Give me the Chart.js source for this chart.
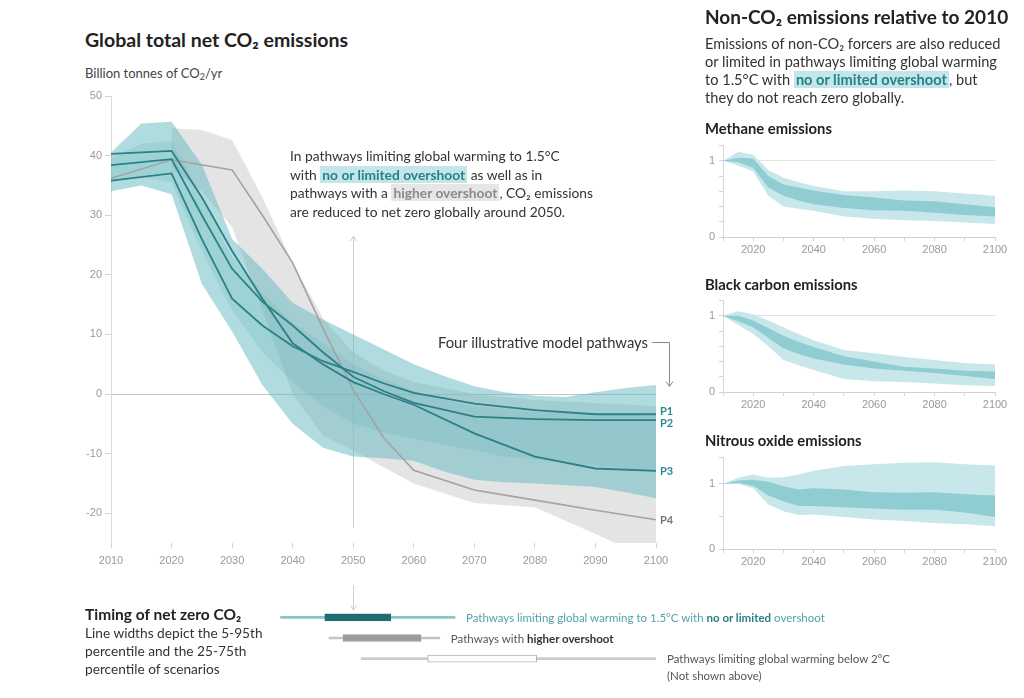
<!DOCTYPE html>
<html lang="en">
<head>
<meta charset="UTF-8">
<title>Global total net CO2 emissions</title>
<script src="https://cdn.jsdelivr.net/npm/chart.js"></script>
<style>
    body {
        margin: 0;
        background: #fff;
        font-family: Lato, "Noto Sans", sans-serif;
        color: #333;
    }
    #page { position: relative; width: 1024px; height: 698px; overflow: hidden; }
    .abs { position: absolute; white-space: nowrap; }
    canvas { position: absolute; }

    .t-main { left: 85px; top: 28px; font-size: 19.5px; line-height: 24px; font-weight: bold; color: #222; }
    .t-unit { left: 85px; top: 64px; font-size: 13px; line-height: 18px; color: #444; }
    .t-unit sub { font-size: 9px; vertical-align: -2px; line-height: 0; }
    .note { left: 290px; top: 147px; font-size: 13.8px; line-height: 18.7px; color: #333; }
    .hl-teal { background: #c4e6e9; color: #23828a; font-weight: bold; padding: 0 2px; }
    .hl-gray { background: #e6e6e6; color: #8a8a8a; font-weight: bold; padding: 0 2px; }
    .four { right: 376px; top: 333px; font-size: 14.8px; line-height: 18px; color: #333; }
    .p-label { font-size: 11px; line-height: 12px; font-weight: bold; color: #2b8a91; }
    .p-label.gray { color: #777; }

    .t-right { left: 705px; top: 5px; font-size: 19px; line-height: 24px; font-weight: bold; color: #222; }
    .para { left: 705px; top: 35px; font-size: 14.6px; line-height: 18px; color: #333; }
    .t-small { left: 705px; font-size: 14.8px; line-height: 18px; font-weight: bold; color: #222; }

    .timing-text { left: 85px; top: 605px; font-size: 13.7px; line-height: 18px; color: #333; }
    .timing-text b { color: #222; font-size: 15.5px; }
    .tl { font-size: 11.5px; line-height: 17px; color: #555; }
    .tl.teal { color: #4fa5ab; }
    .tl.teal b { color: #2a7f86; }
    .tl b { color: #333; }
</style>
</head>
<body>
<div id="page">
    <div class="abs t-main">Global total net CO₂ emissions</div>
    <div class="abs t-unit">Billion tonnes of CO<sub>2</sub>/yr</div>

    <canvas id="main" width="640" height="500" style="left:60px; top:80px;"></canvas>
    <canvas id="timing" width="640" height="95" style="left:60px; top:585px;"></canvas>

    <div class="abs note">In pathways limiting global warming to 1.5°C<br>with <span class="hl-teal">no or limited overshoot</span> as well as in<br>pathways with a <span class="hl-gray">higher overshoot</span>, CO₂ emissions<br>are reduced to net zero globally around 2050.</div>
    <div class="abs four">Four illustrative model pathways</div>
    <svg class="abs" style="left:0; top:0;" width="1024" height="698">
        <path d="M652 342.5 H669.5 V386" stroke="#888" stroke-width="1" fill="none"/>
        <path d="M666 381.5 L669.5 386.5 L673 381.5" stroke="#888" stroke-width="1" fill="none"/>
    </svg>

    <div class="abs t-right">Non-CO₂ emissions relative to 2010</div>
    <div class="abs para">Emissions of non-CO₂ forcers are also reduced<br>or limited in pathways limiting global warming<br>to 1.5°C with <span class="hl-teal">no or limited overshoot</span>, but<br>they do not reach zero globally.</div>

    <div class="abs t-small" style="top:119px;">Methane emissions</div>
    <canvas id="methane" width="330" height="124" style="left:690px; top:135px;"></canvas>
    <div class="abs t-small" style="top:275px;">Black carbon emissions</div>
    <canvas id="blackcarbon" width="330" height="124" style="left:690px; top:290px;"></canvas>
    <div class="abs t-small" style="top:431px;">Nitrous oxide emissions</div>
    <canvas id="nitrous" width="330" height="124" style="left:690px; top:447px;"></canvas>

    <div class="abs timing-text"><b>Timing of net zero CO₂</b><br>Line widths depict the 5-95th<br>percentile and the 25-75th<br>percentile of scenarios</div>
</div>

<script>
    // ---- main chart: net CO2 (GtCO2/yr) ----
    const BAND_YEARS = [2010, 2015, 2020, 2025, 2030, 2035, 2040, 2045, 2050, 2055, 2060, 2065, 2070, 2075, 2080, 2085, 2090, 2095, 2100];
    const TEAL_HI = [40.5, 45.4, 45.7, 38.5, 26, 21, 15.3, 12.5, 10, 7.5, 5, 3, 1.3, 0.3, -0.3, -0.5, 0.3, 1, 1.5];
    const TEAL_LO = [34, 35, 33.5, 18.5, 10.5, 1.5, -5, -9, -10.5, -10.8, -11.2, -13, -14.4, -14.8, -15, -15.3, -15.6, -16.5, -17.5];
    const TEAL_CORE_HI = [39.5, 42, 42.5, 33, 23, 17, 12, 8.5, 5, 2.5, 0.5, -1, -2, -2.5, -3, -3.2, -3.4, -3.5, -3.6];
    const TEAL_CORE_LO = [35.5, 36.5, 35.5, 24, 14, 7, 2, -2, -5, -6.5, -7.5, -8.5, -9.5, -10.5, -11, -11.5, -12, -12.5, -13];

    const GRAY_YEARS = [2020, 2025, 2030, 2035, 2040, 2045, 2050, 2055, 2060, 2070, 2080, 2090, 2100];
    const GRAY_HI = [44.6, 44.3, 42.6, 33, 22, 12.7, 7, 4, 2, 0, -1, -1.5, -2];
    const GRAY_LO = [38, 34, 28, 14, 0, -7, -9.5, -12.3, -15, -18.3, -19, -23.5, -28];

    const P_YEARS = [2010, 2020, 2025, 2030, 2035, 2040, 2045, 2050, 2055, 2060, 2070, 2080, 2090, 2100];
    const P1 = [35.8, 37.0, 26, 16, 11.5, 8, 5.5, 3.7, 1.8, 0.2, -1.6, -2.7, -3.4, -3.4];
    const P2 = [38.4, 39.4, 30, 21, 15.5, 11.5, 7, 2.9, 0.5, -1.5, -3.8, -4.2, -4.4, -4.4];
    const P3 = [40.3, 40.8, 33, 24, 16, 8.5, 5, 2, 0, -1.8, -6.6, -10.5, -12.5, -12.9];
    const P4_YEARS = [2010, 2020, 2030, 2035, 2040, 2045, 2050, 2055, 2060, 2070, 2080, 2090, 2100];
    const P4 = [36.2, 39.3, 37.6, 30, 22, 11, 0.7, -7.3, -12.8, -16.1, -17.8, -19.5, -21.1];

    const NET_ZERO_YEAR = 2050;
    const GUIDE_TOP = 26.5;

    // ---- timing of net zero CO2 (years) ----
    const TIMING_ROWS = ['1.5°C no or limited overshoot', 'Higher overshoot', 'Below 2°C'];
    const TIMING_P5 = [2038, 2046, 2051.3];
    const TIMING_P25 = [2045.3, 2048.3, 2062.3];
    const TIMING_P75 = [2056.2, 2061.2, 2080.3];
    const TIMING_P95 = [2066.8, 2064.3, 2100];

    // ---- non-CO2, relative to 2010 ----
    const SMALL_YEARS = [2010, 2015, 2020, 2025, 2030, 2035, 2040, 2050, 2060, 2070, 2080, 2090, 2100];
    const CH4_HI = [1.0, 1.12, 1.08, 0.88, 0.78, 0.72, 0.67, 0.60, 0.60, 0.61, 0.60, 0.57, 0.54];
    const CH4_LO = [1.0, 0.94, 0.86, 0.54, 0.40, 0.37, 0.345, 0.27, 0.24, 0.22, 0.21, 0.19, 0.17];
    const CH4_Q_HI = [1.0, 1.04, 1.03, 0.80, 0.69, 0.65, 0.61, 0.55, 0.52, 0.48, 0.47, 0.43, 0.39];
    const CH4_Q_LO = [1.0, 0.98, 0.91, 0.65, 0.54, 0.48, 0.43, 0.38, 0.35, 0.345, 0.32, 0.29, 0.27];

    const BC_HI = [1.0, 1.06, 1.02, 0.94, 0.85, 0.76, 0.68, 0.55, 0.51, 0.46, 0.42, 0.38, 0.36];
    const BC_LO = [1.0, 0.88, 0.76, 0.60, 0.42, 0.35, 0.29, 0.17, 0.14, 0.13, 0.11, 0.09, 0.08];
    const BC_Q_HI = [1.0, 1.0, 0.94, 0.84, 0.74, 0.66, 0.59, 0.47, 0.40, 0.33, 0.31, 0.28, 0.27];
    const BC_Q_LO = [1.0, 0.93, 0.85, 0.71, 0.57, 0.50, 0.44, 0.36, 0.31, 0.28, 0.25, 0.21, 0.17];

    const N2O_HI = [1.0, 1.09, 1.14, 1.09, 1.10, 1.14, 1.20, 1.27, 1.30, 1.32, 1.33, 1.30, 1.28];
    const N2O_LO = [1.0, 1.0, 0.93, 0.68, 0.58, 0.52, 0.53, 0.49, 0.45, 0.43, 0.40, 0.38, 0.35];
    const N2O_Q_HI = [1.0, 1.05, 1.06, 1.03, 0.96, 0.91, 0.93, 0.91, 0.87, 0.86, 0.87, 0.84, 0.82];
    const N2O_Q_LO = [1.0, 1.01, 0.97, 0.82, 0.73, 0.66, 0.66, 0.64, 0.62, 0.60, 0.60, 0.56, 0.49];

    const TEAL_DARK = '#2e7f86';
    const TICK_GREY = '#9a9a9a';

    const pts = (xs, ys) => xs.map((x, i) => ({ x: x, y: ys[i] }));
    const near = (v, t) => Math.abs(v - t) < 1e-6;

    function edge(xs, ys, order) {
        return { data: pts(xs, ys), borderColor: 'rgba(0,0,0,0)', borderWidth: 0, fill: false, order: order };
    }
    function bandTop(xs, ys, color, order) {
        return { data: pts(xs, ys), borderColor: 'rgba(0,0,0,0)', borderWidth: 0, fill: '-1', backgroundColor: color, order: order };
    }
    function pathway(name, xs, ys, color, width, order) {
        return { label: name, data: pts(xs, ys), borderColor: color, borderWidth: width, fill: false, order: order };
    }

    const guide2050 = {
        id: 'guide2050',
        beforeDatasetsDraw(chart) {
            const { ctx, chartArea } = chart;
            const px = Math.round(chart.scales.x.getPixelForValue(NET_ZERO_YEAR)) + 0.5;
            const top = chart.scales.y.getPixelForValue(GUIDE_TOP);
            ctx.save();
            ctx.strokeStyle = '#cfcfcf';
            ctx.lineWidth = 1;
            ctx.beginPath();
            ctx.moveTo(px, top);
            ctx.lineTo(px, chartArea.bottom - 15);
            ctx.moveTo(px - 3, top + 5);
            ctx.lineTo(px, top);
            ctx.lineTo(px + 3, top + 5);
            ctx.stroke();
            ctx.restore();
        }
    };

    const mainChart = new Chart(document.getElementById('main'), {
        type: 'line',
        data: {
            datasets: [
                pathway('P1', P_YEARS, P1, TEAL_DARK, 1.8, 0),
                pathway('P2', P_YEARS, P2, TEAL_DARK, 1.8, 0),
                pathway('P3', P_YEARS, P3, TEAL_DARK, 1.8, 0),
                pathway('P4', P4_YEARS, P4, '#a3a3a3', 1.6, 1),
                edge(BAND_YEARS, TEAL_CORE_LO, 2),
                bandTop(BAND_YEARS, TEAL_CORE_HI, 'rgba(60,160,168,0.16)', 2),
                edge(BAND_YEARS, TEAL_LO, 3),
                bandTop(BAND_YEARS, TEAL_HI, 'rgba(100,185,192,0.5)', 3),
                edge(GRAY_YEARS, GRAY_LO, 4),
                bandTop(GRAY_YEARS, GRAY_HI, 'rgba(198,198,198,0.48)', 4)
            ]
        },
        options: {
            responsive: false,
            animation: false,
            layout: { padding: { left: 0, right: 44, top: 16, bottom: 0 } },
            elements: { point: { radius: 0 }, line: { tension: 0 } },
            plugins: { legend: { display: false }, tooltip: { enabled: false } },
            scales: {
                x: {
                    type: 'linear', min: 2010, max: 2100,
                    ticks: { stepSize: 10, color: TICK_GREY, font: { size: 11 }, padding: 6, callback: v => String(v) },
                    grid: { drawOnChartArea: false, tickLength: 5, color: '#d6d6d6' },
                    border: { display: false },
                    afterFit: s => { s.height = 37; }
                },
                y: {
                    min: -25, max: 50,
                    ticks: { stepSize: 10, includeBounds: false, color: TICK_GREY, font: { size: 11 }, padding: 3 },
                    grid: {
                        color: c => (c.tick && near(c.tick.value, 0)) ? '#c4c4c4' : 'rgba(0,0,0,0)',
                        tickColor: '#d6d6d6', tickLength: 6
                    },
                    border: { display: true, color: '#dcdcdc' },
                    afterFit: s => { s.width = 51; }
                }
            }
        },
        plugins: [guide2050]
    });

    // pathway labels at the 2100 end of each line
    (function placePathwayLabels() {
        const cv = document.getElementById('main');
        const left = cv.offsetLeft, top = cv.offsetTop;
        const labels = [];
        mainChart.data.datasets.forEach(ds => {
            if (!ds.label) return;
            const last = ds.data[ds.data.length - 1];
            labels.push({ name: ds.label, y: mainChart.scales.y.getPixelForValue(last.y), gray: ds.label === 'P4' });
        });
        labels.sort((a, b) => a.y - b.y);
        for (let k = 1; k < labels.length; k++) {
            const gap = labels[k].y - labels[k - 1].y;
            if (gap < 12) {
                const shift = (12 - gap) / 2;
                labels[k - 1].y -= shift;
                labels[k].y += shift;
            }
        }
        labels.forEach(l => {
            const d = document.createElement('div');
            d.className = 'abs p-label' + (l.gray ? ' gray' : '');
            d.textContent = l.name;
            d.style.left = (left + mainChart.chartArea.right + 4) + 'px';
            d.style.top = (top + l.y - 6) + 'px';
            document.getElementById('page').appendChild(d);
        });
    })();

    // ---- timing bars ----
    const timingGuide = {
        id: 'timingGuide',
        beforeDatasetsDraw(chart) {
            const { ctx } = chart;
            const px = Math.round(chart.scales.x.getPixelForValue(NET_ZERO_YEAR)) + 0.5;
            const end = chart.scales.y.getPixelForValue(0) - 7;
            ctx.save();
            ctx.strokeStyle = '#cfcfcf';
            ctx.lineWidth = 1;
            ctx.beginPath();
            ctx.moveTo(px, 0);
            ctx.lineTo(px, end);
            ctx.moveTo(px - 3, end - 5);
            ctx.lineTo(px, end);
            ctx.lineTo(px + 3, end - 5);
            ctx.stroke();
            ctx.restore();
        }
    };

    const timingChart = new Chart(document.getElementById('timing'), {
        type: 'bar',
        data: {
            labels: TIMING_ROWS,
            datasets: [
                {
                    data: TIMING_ROWS.map((_, i) => [TIMING_P25[i], TIMING_P75[i]]),
                    backgroundColor: ['#1f6d73', '#9c9c9c', '#ffffff'],
                    borderColor: ['#1f6d73', '#9c9c9c', '#b3b3b3'],
                    borderWidth: 1, borderSkipped: false, barThickness: 7, grouped: false
                },
                {
                    data: TIMING_ROWS.map((_, i) => [TIMING_P5[i], TIMING_P95[i]]),
                    backgroundColor: ['#88c5ca', '#c4c4c4', '#cdcdcd'],
                    borderWidth: 0, barThickness: 2, grouped: false
                }
            ]
        },
        options: {
            indexAxis: 'y',
            responsive: false,
            animation: false,
            layout: { padding: { left: 51, right: 44, top: 22, bottom: 11 } },
            plugins: { legend: { display: false }, tooltip: { enabled: false } },
            scales: {
                x: { type: 'linear', min: 2010, max: 2100, display: false },
                y: { display: false }
            }
        },
        plugins: [timingGuide]
    });

    (function placeTimingLabels() {
        const cv = document.getElementById('timing');
        const texts = [
            ['tl teal', 'Pathways limiting global warming to 1.5°C with <b>no or limited</b> overshoot'],
            ['tl', 'Pathways with <b>higher overshoot</b>'],
            ['tl', 'Pathways limiting global warming below 2°C<br>(Not shown above)']
        ];
        texts.forEach((t, i) => {
            const d = document.createElement('div');
            d.className = 'abs ' + t[0];
            d.innerHTML = t[1];
            d.style.left = (cv.offsetLeft + timingChart.scales.x.getPixelForValue(TIMING_P95[i]) + 11) + 'px';
            d.style.top = (cv.offsetTop + timingChart.scales.y.getPixelForValue(i) - 8.5) + 'px';
            document.getElementById('page').appendChild(d);
        });
    })();

    // ---- small non-CO2 charts ----
    function smallChart(id, yMax, yStep, lo, hi, qLo, qHi) {
        return new Chart(document.getElementById(id), {
            type: 'line',
            data: {
                datasets: [
                    edge(SMALL_YEARS, qLo, 0),
                    bandTop(SMALL_YEARS, qHi, '#8fcdd3', 0),
                    edge(SMALL_YEARS, lo, 1),
                    bandTop(SMALL_YEARS, hi, '#c8e7ea', 1)
                ]
            },
            options: {
                responsive: false,
                animation: false,
                layout: { padding: { left: 0, right: 25, top: 10, bottom: 0 } },
                elements: { point: { radius: 0 }, line: { tension: 0 } },
                plugins: { legend: { display: false }, tooltip: { enabled: false } },
                scales: {
                    x: {
                        type: 'linear', min: 2010, max: 2100,
                        ticks: {
                            stepSize: 10, autoSkip: false, maxRotation: 0, color: TICK_GREY,
                            font: { size: 11 }, padding: 2,
                            callback: v => (Math.round(v) % 20 === 0 ? String(Math.round(v)) : '')
                        },
                        grid: { drawOnChartArea: false, tickLength: 4, color: '#d6d6d6' },
                        border: { display: true, color: '#d0d0d0' },
                        afterFit: s => { s.height = 22; }
                    },
                    y: {
                        min: 0, max: yMax,
                        ticks: {
                            stepSize: yStep, autoSkip: false, color: TICK_GREY, font: { size: 11 }, padding: 4,
                            callback: v => (near(v, 0) ? '0' : near(v, 1) ? '1' : '')
                        },
                        grid: {
                            color: c => (c.tick && near(c.tick.value, 1)) ? '#e3e3e3' : 'rgba(0,0,0,0)',
                            tickColor: '#d6d6d6', tickLength: 4
                        },
                        border: { display: true, color: '#d6d6d6' },
                        afterFit: s => { s.width = 33; }
                    }
                }
            }
        });
    }

    smallChart('methane', 1.2, 0.2, CH4_LO, CH4_HI, CH4_Q_LO, CH4_Q_HI);
    smallChart('blackcarbon', 1.2, 0.2, BC_LO, BC_HI, BC_Q_LO, BC_Q_HI);
    smallChart('nitrous', 1.4, 0.5, N2O_LO, N2O_HI, N2O_Q_LO, N2O_Q_HI);
</script>
</body>
</html>
